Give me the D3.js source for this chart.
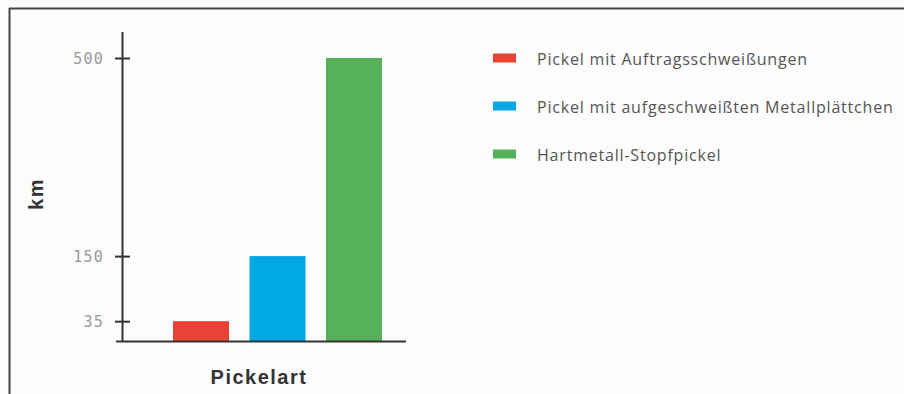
<!DOCTYPE html>
<html><head><meta charset="utf-8">
<script src="https://cdn.jsdelivr.net/npm/d3@7"></script>
<style>body{margin:0;background:#fff}svg{display:block}</style>
</head><body>
<svg id="c" width="904" height="394"></svg>
<script>
const categories = ["Pickel mit Auftragsschweißungen", "Pickel mit aufgeschweißten Metallplättchen", "Hartmetall-Stopfpickel"];
const values = [35, 150, 500];
const colors = ["#ea4335", "#00a9e6", "#55b25a"];
const tickValues = [35, 150, 500];
const yTitle = "km";
const xTitle = "Pickelart";

const svg = d3.select("#c");
svg.append("rect").attr("width",904).attr("height",394).attr("fill","#fcfcfc");
svg.append("line").attr("x1",9).attr("x2",904).attr("y1",8.5).attr("y2",8.5).attr("stroke","#444").attr("stroke-width",2);
svg.append("line").attr("x1",9.5).attr("x2",9.5).attr("y1",8).attr("y2",394).attr("stroke","#444").attr("stroke-width",2);

const y = d3.scaleLinear().domain([0,500]).range([341,58]);
const x = d3.scaleBand().domain(categories).range([173,382]).paddingInner(0.268).paddingOuter(0);

const g = svg.append("g");
g.selectAll("rect.bar").data(values).join("rect").attr("class","bar")
  .attr("x",(d,i)=>x(categories[i])).attr("width",x.bandwidth())
  .attr("y",d=>y(d)).attr("height",d=>y(0)-y(d))
  .attr("fill",(d,i)=>colors[i]);

// axes
svg.append("line").attr("x1",122.5).attr("x2",122.5).attr("y1",32).attr("y2",342).attr("stroke","#333").attr("stroke-width",2);
svg.append("line").attr("x1",116).attr("x2",406).attr("y1",341.5).attr("y2",341.5).attr("stroke","#333").attr("stroke-width",2);
const yAxis = d3.axisLeft(y).tickValues(tickValues).tickSize(0).tickPadding(0);
const ya = svg.append("g").attr("transform","translate(122,0)").call(yAxis);
ya.select(".domain").remove();
ya.selectAll(".tick line").remove();
ya.selectAll(".tick").append("line").attr("x1",-7).attr("x2",8).attr("stroke","#333").attr("stroke-width",2);
ya.selectAll(".tick text").attr("x",-18).attr("fill","#999").attr("font-family","DejaVu Sans Mono")
  .attr("font-size",15).attr("letter-spacing",1.2).attr("dy","0.35em");

svg.append("text").attr("transform","translate(43,194) rotate(-90)").attr("text-anchor","middle")
  .attr("font-family","Liberation Sans, Arial").attr("font-weight","bold").attr("font-size",20)
  .attr("letter-spacing",1.5).attr("fill","#333").text(yTitle);
svg.append("text").attr("x",259).attr("y",384).attr("text-anchor","middle")
  .attr("font-family","Liberation Sans, Arial").attr("font-weight","bold").attr("font-size",20)
  .attr("letter-spacing",1.5).attr("fill","#333").text(xTitle);

// legend
const leg = svg.append("g");
const ly = d3.scalePoint().domain(categories).range([58,154]);
categories.forEach((c,i)=>{
  leg.append("rect").attr("x",493).attr("y",ly(c)-4.5).attr("width",23).attr("height",9).attr("fill",colors[i]);
  leg.append("text").attr("x",537).attr("y",ly(c)+1).attr("dy","0.35em")
    .attr("font-family","Open Sans").attr("font-size",16).attr("letter-spacing",0.8).attr("fill","#555").text(c);
});
</script>
</body></html>
